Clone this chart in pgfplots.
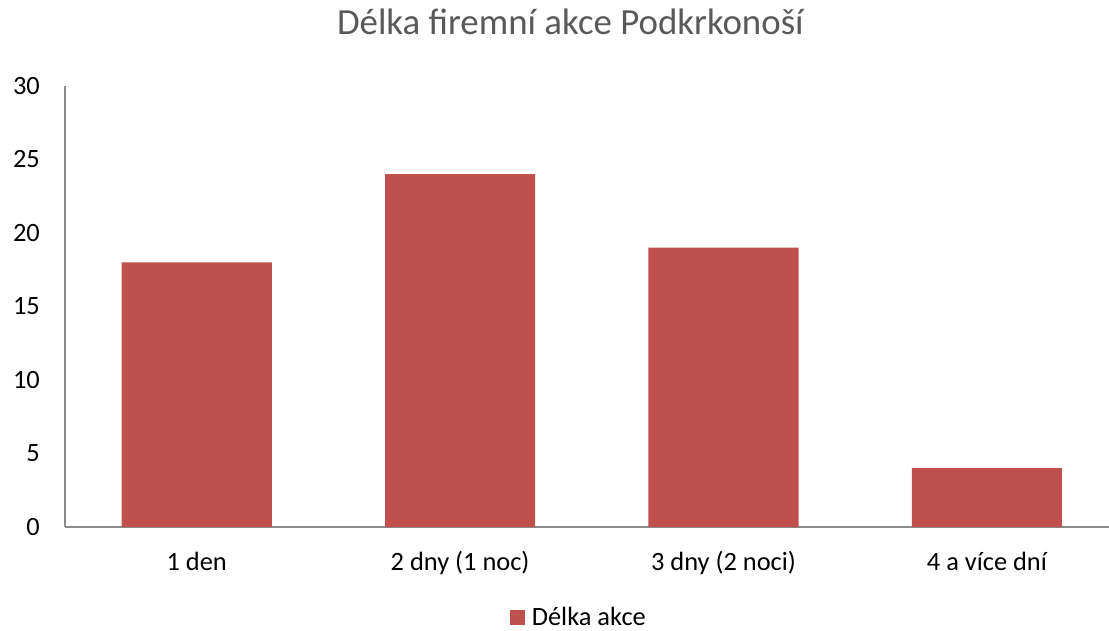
\documentclass[border=0pt]{standalone}
\usepackage{pgfplots}
\pgfplotsset{compat=1.18}
\usepackage{fontspec}
\setmainfont{Carlito}
\definecolor{barred}{HTML}{C0504D}
\definecolor{axgray}{HTML}{8C8C8C}
\definecolor{titlegray}{HTML}{595959}
\begin{document}
\begin{tikzpicture}
\begin{axis}[
  name=ax,
  scale only axis,
  width=1053.6bp, height=441bp,
  xmin=-0.5, xmax=3.5,
  ymin=0, ymax=30,
  ytick={0,5,...,30},
  xtick={0,1,2,3},
  xticklabels={1 den, 2 dny (1 noc), 3 dny (2 noci), 4 a více dní},
  major tick length=0pt,
  axis x line*=bottom,
  axis y line*=left,
  axis line style={axgray, line width=1.2bp},
  /pgf/number format/assume math mode=true,
  tick label style={font=\fontsize{26.5}{30}\selectfont, text=black, inner sep=0pt},
  yticklabel style={anchor=east, xshift=-25bp},
  xticklabel style={anchor=base, yshift=-43bp},
  title={Délka firemní akce Podkrkonoší},
  title style={font=\fontsize{37}{42}\selectfont, text=titlegray, at={(0.5,1)}, anchor=base, inner sep=0pt, xshift=-21.5bp, yshift=45.3bp},
  legend style={at={(0.5,0)}, anchor=center, xshift=-13bp, yshift=-90bp, draw=none, inner sep=0pt, font=\fontsize{26.5}{30}\selectfont},
  ybar, bar width=0.57,
]
\addplot[fill=barred, draw=none, legend image code/.code={\fill[barred] (0bp,-7.5bp) rectangle (15bp,7.5bp); \path (0bp,0bp) -- (20bp,0bp);}] coordinates {(0,18) (1,24) (2,19) (3,4)};
\addlegendentry{Délka akce}
\end{axis}
\pgfresetboundingbox
\path[use as bounding box] ([xshift=-65bp,yshift=-103bp]ax.south west) rectangle ([xshift=-9.6bp,yshift=86bp]ax.north east);
\end{tikzpicture}
\end{document}
